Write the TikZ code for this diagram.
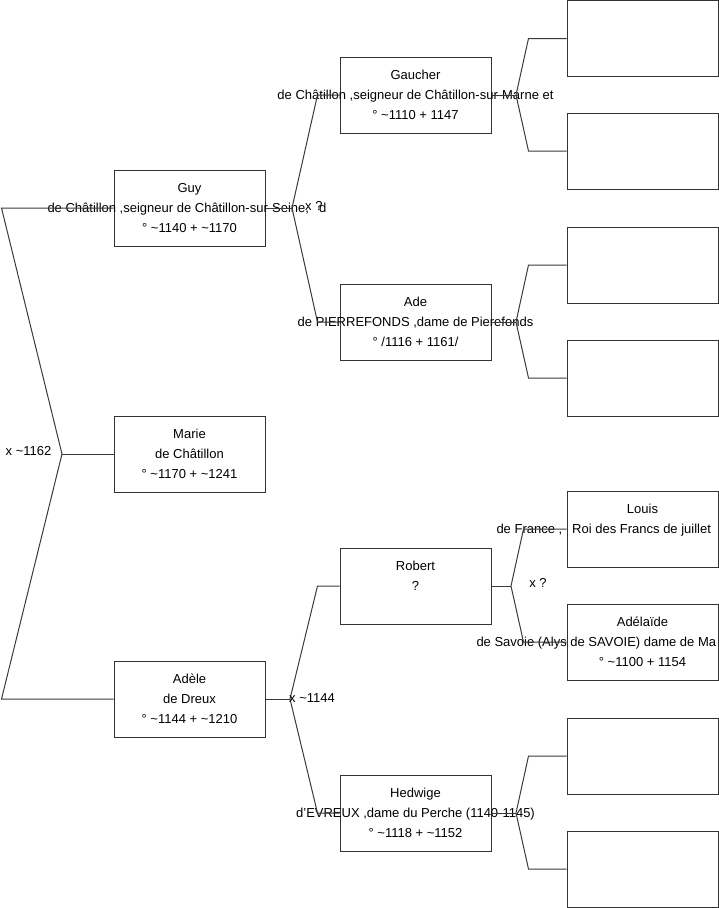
\documentclass[tikz,border=0pt]{standalone}
\usepackage{fontspec}
\setmainfont{Liberation Sans}
\usetikzlibrary{positioning}
\def\wRegular{1.0pt}
\definecolor{cInk}{HTML}{333333}
\definecolor{cLine}{HTML}{3A3A3A}
\tikzset{
  tree/.style={font=\fontsize{13}{20}\selectfont},
  fiche/.style={draw=cInk, line width=\wRegular, fill=white, minimum width=151pt,
    minimum height=76pt, inner sep=0pt, align=center},
  link/.style={draw=cLine, line width=\wRegular},
  mar/.style={inner sep=0pt},
}
\newcommand{\fl}[1]{\makebox[0pt]{#1}}
\newcommand{\who}[3]{\fl{#1}\\\fl{#2}\\\fl{#3}}
\newcommand{\ca}{\textasciitilde}

\begin{document}
\begin{tikzpicture}[tree, x=1pt, y=-1pt]
\useasboundingbox (0,0) rectangle (719,908);
% generation 1
\node[fiche] (guy)   at (189.5,208) {\who{Guy}{\makebox[284pt][l]{de Châtillon ,seigneur de Châtillon-sur-Seine,\hspace{10pt}d}}{° \ca1140 + \ca1170}};
\node[fiche] (marie) at (189.5,454) {\who{Marie}{de Châtillon}{° \ca1170 + \ca1241}};
\node[fiche] (adele) at (189.5,699) {\who{Adèle}{de Dreux}{° \ca1144 + \ca1210}};

% generation 2
\node[fiche] (gaucher) at (415.5,95)  {\who{Gaucher}{de Châtillon ,seigneur de Châtillon-sur-Marne et}{° \ca1110 + 1147}};
\node[fiche] (ade)     at (415.5,322) {\who{Ade}{de PIERREFONDS ,dame de Pierefonds}{° /1116 + 1161/}};
\node[fiche] (robert)  at (415.5,586) {\who{Robert}{?}{}};
\node[fiche] (hedwige) at (415.5,813) {\who{Hedwige}{d'EVREUX ,dame du Perche (1140-1145)}{° \ca1118 + \ca1152}};

% generation 3 (cut by the right edge)
\node[fiche] (g1) at (642.5,38.5) {};
\node[fiche] (g2) at (642.5,151)  {};
\node[fiche] (g3) at (642.5,265)  {};
\node[fiche] (g4) at (642.5,378)  {};
\node[fiche] (louis)    at (642.5,529) {\who{Louis}{\makebox[292pt][l]{de France ,\hspace{10pt}Roi des Francs de juillet}}{}};
\node[fiche] (adelaide) at (642.5,642) {\who{Adélaïde}{\makebox[332pt][l]{de Savoie (Alys de SAVOIE) dame de Ma}}{° \ca1100 + 1154}};
\node[fiche] (g7) at (642.5,756) {};
\node[fiche] (g8) at (642.5,869) {};

% fork points
\coordinate (vMarie)   at (62,454);
\coordinate (vGuy)     at (292,208);
\coordinate (vAdele)   at (290,699);
\coordinate (vGaucher) at (516,95);
\coordinate (vAde)     at (516,322);
\coordinate (vRobert)  at (511,586);
\coordinate (vHedwige) at (516,813);

% marriages
\draw[link] (guy.west) -- ++(-112,0) -- (vMarie) -- ([xshift=-112pt]adele.west) -- (adele.west);
\draw[link] (vMarie) -- (marie.west);
\draw[link] (gaucher.west) -- ++(-22,0) -- (vGuy) -- ([xshift=-22pt]ade.west) -- (ade.west);
\draw[link] (guy.east) -- (vGuy);
\draw[link] (robert.west) -- ++(-22,0) -- (vAdele) -- ([xshift=-22pt]hedwige.west) -- (hedwige.west);
\draw[link] (adele.east) -- (vAdele);
\draw[link] (g1.west) -- ++(-38,0) -- (vGaucher) -- ([xshift=-38pt]g2.west) -- (g2.west);
\draw[link] (gaucher.east) -- (vGaucher);
\draw[link] (g3.west) -- ++(-38,0) -- (vAde) -- ([xshift=-38pt]g4.west) -- (g4.west);
\draw[link] (ade.east) -- (vAde);
\draw[link] (louis.west) -- ++(-43,0) -- (vRobert) -- ([xshift=-43pt]adelaide.west) -- (adelaide.west);
\draw[link] (robert.east) -- (vRobert);
\draw[link] (g7.west) -- ++(-38,0) -- (vHedwige) -- ([xshift=-38pt]g8.west) -- (g8.west);
\draw[link] (hedwige.east) -- (vHedwige);

% marriage labels
\node[mar] (mMarie)  at (28.5,451) {x \ca1162};
\node[mar, anchor=west] (mGuy)   at (305,206) {x ?};
\node[mar, anchor=west] (mAdele) at (289,698) {x \ca1144};
\node[mar] (mRobert) at (538,583) {x ?};
\end{tikzpicture}
\end{document}
